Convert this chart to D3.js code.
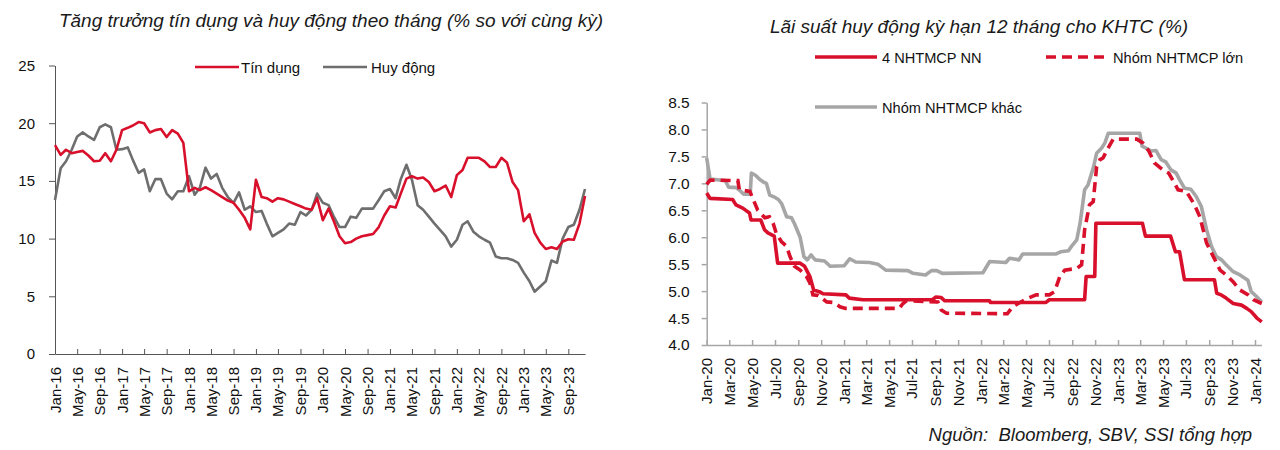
<!DOCTYPE html>
<html><head><meta charset="utf-8">
<script src="https://cdn.jsdelivr.net/npm/d3@7/dist/d3.min.js"></script>
<style>
body{margin:0;background:#fff;}
svg{display:block;}
</style>
</head><body>
<svg id="c" width="1280" height="450"></svg>
<script>
// ---------- LEFT CHART DATA ----------
const leftTitle = "Tăng trưởng tín dụng và huy động theo tháng (% so với cùng kỳ)";
const leftStart = "2016-01";   // first month of monthly series
const leftSeriesNames = ["Tín dụng", "Huy động"];
const creditGrowth = [18.1,17.25,17.7,17.4,17.5,17.6,17.2,16.7,16.75,17.4,16.7,17.7,
  19.4,19.6,19.8,20.1,20.0,19.2,19.4,19.5,18.8,19.4,19.1,18.3,
  14.1,14.4,14.2,14.45,14.2,13.9,13.6,13.3,13.1,12.5,11.8,10.8,
  15.1,13.6,13.5,13.2,13.5,13.4,13.2,13.0,12.8,12.6,12.5,13.5,
  11.6,12.6,11.5,10.2,9.6,9.7,10.0,10.2,10.3,10.4,11.0,12.0,
  12.8,12.7,13.9,15.2,15.4,15.2,15.3,14.9,14.1,14.3,14.6,13.6,
  15.5,15.95,17.0,17.0,17.0,16.7,16.2,16.2,17.0,16.6,14.9,14.2,
  11.5,12.1,10.5,9.65,9.1,9.25,9.1,9.75,9.95,9.9,11.3,13.7];
const depositGrowth = [13.35,16.1,16.7,17.7,18.85,19.2,18.85,18.55,19.65,19.9,19.65,17.7,
  17.75,17.9,16.8,15.7,16.0,14.1,15.15,15.15,13.9,13.4,14.1,14.1,
  15.4,13.8,14.4,16.15,15.2,15.6,14.4,13.6,13.1,14.0,12.5,12.8,
  12.3,12.4,11.3,10.2,10.5,10.8,11.3,11.2,12.3,12.0,12.5,13.9,
  13.1,12.9,11.9,11.0,11.0,11.9,11.8,12.6,12.6,12.6,13.35,14.1,
  14.3,13.5,15.15,16.4,15.1,12.9,12.5,11.9,11.3,10.75,10.2,9.3,
  9.9,11.2,11.5,10.6,10.2,9.9,9.65,8.45,8.3,8.3,8.15,7.9,
  7.05,6.3,5.4,5.85,6.3,8.1,7.9,10.0,11.0,11.2,12.5,14.3];
const leftYTicks = [0,5,10,15,20,25];
const leftXLabels = ["Jan-16","May-16","Sep-16","Jan-17","May-17","Sep-17","Jan-18","May-18","Sep-18",
  "Jan-19","May-19","Sep-19","Jan-20","May-20","Sep-20","Jan-21","May-21","Sep-21",
  "Jan-22","May-22","Sep-22","Jan-23","May-23","Sep-23"];

// ---------- RIGHT CHART DATA ----------
const rightTitle = "Lãi suất huy động kỳ hạn 12 tháng cho KHTC (%)";
const rightSeriesNames = ["4 NHTMCP NN", "Nhóm NHTMCP lớn", "Nhóm NHTMCP khác"];
const soeDates = ["2020-01-01","2020-01-10","2020-03-10","2020-03-19","2020-04-06","2020-04-24","2020-04-28","2020-05-24",
  "2020-06-03","2020-06-12","2020-06-29","2020-07-08","2020-09-05","2020-09-18","2020-10-02","2020-10-12","2020-10-27",
  "2020-11-06","2021-01-06","2021-01-15","2021-02-20","2021-08-24","2021-09-03","2021-09-17","2021-09-26","2022-01-24",
  "2022-01-26","2022-06-23","2022-07-02","2022-10-04","2022-10-08","2022-10-31","2022-11-03","2023-03-07","2023-03-15",
  "2023-05-21","2023-06-03","2023-06-14","2023-06-27","2023-09-15","2023-09-21","2023-10-03","2023-10-16","2023-11-04",
  "2023-11-26","2023-12-10","2023-12-22","2024-01-06","2024-01-19"];
const soeRates = [6.82,6.72,6.7,6.6,6.54,6.45,6.32,6.32,
  6.14,6.08,6.02,5.52,5.52,5.46,5.27,5.02,4.99,
  4.95,4.93,4.87,4.84,4.84,4.89,4.88,4.82,4.82,
  4.79,4.79,4.84,4.84,5.27,5.27,6.26,6.26,6.02,
  6.02,5.73,5.73,5.21,5.21,4.96,4.93,4.87,4.77,
  4.74,4.68,4.62,4.5,4.43];
const largeDates = ["2020-01-01","2020-01-10","2020-03-24","2020-03-28","2020-04-25","2020-05-04","2020-05-16","2020-06-04",
  "2020-06-16","2020-06-26","2020-07-04","2020-07-18","2020-08-01","2020-08-10","2020-08-22","2020-09-06","2020-09-23",
  "2020-10-02","2020-10-10","2020-10-24","2020-11-16","2020-12-04","2020-12-21","2021-01-05","2021-05-28","2021-06-07",
  "2021-06-16","2021-09-08","2021-09-17","2021-10-01","2022-03-12","2022-03-26","2022-04-10","2022-05-07","2022-05-28",
  "2022-07-02","2022-07-16","2022-07-30","2022-08-12","2022-09-13","2022-09-26","2022-10-04","2022-10-17","2022-10-27",
  "2022-11-05","2022-11-14","2022-11-22","2022-12-06","2022-12-19","2023-02-20","2023-03-08","2023-03-24","2023-04-08",
  "2023-04-30","2023-05-16","2023-05-26","2023-06-10","2023-07-02","2023-07-24","2023-08-07","2023-08-25","2023-09-12",
  "2023-09-30","2023-10-16","2023-11-03","2023-11-22","2023-12-14","2023-12-28","2024-01-19"];
const largeRates = [6.98,7.06,7.05,6.88,6.85,6.7,6.5,6.36,
  6.38,6.26,6.08,5.92,5.83,5.64,5.46,5.39,5.27,
  5.15,4.93,4.92,4.8,4.79,4.71,4.68,4.68,4.77,
  4.82,4.8,4.65,4.59,4.58,4.71,4.77,4.87,4.93,
  4.93,4.99,5.27,5.39,5.42,5.49,6.14,6.6,6.66,
  7.31,7.44,7.47,7.66,7.82,7.82,7.75,7.6,7.38,
  7.25,7.19,7.07,6.88,6.85,6.6,6.38,5.89,5.64,
  5.39,5.3,5.18,5.02,4.93,4.84,4.77];
const otherDates = ["2020-01-01","2020-01-10","2020-02-20","2020-02-28","2020-03-20","2020-04-01","2020-04-08","2020-04-26",
  "2020-04-29","2020-05-10","2020-05-20","2020-06-01","2020-06-08","2020-06-17","2020-06-28","2020-07-10","2020-07-19",
  "2020-08-01","2020-08-14","2020-08-22","2020-09-06","2020-09-16","2020-09-25","2020-10-05","2020-10-16","2020-11-10",
  "2020-11-25","2021-01-01","2021-01-16","2021-02-01","2021-03-10","2021-04-01","2021-04-22","2021-06-20","2021-07-04",
  "2021-08-06","2021-08-22","2021-09-05","2021-09-20","2022-01-06","2022-01-24","2022-03-08","2022-03-18","2022-04-12",
  "2022-04-22","2022-07-20","2022-08-01","2022-08-22","2022-08-30","2022-09-13","2022-09-22","2022-10-04","2022-10-13",
  "2022-10-28","2022-11-05","2022-11-19","2022-11-27","2022-12-06","2023-02-28","2023-03-06","2023-03-15","2023-03-30",
  "2023-04-12","2023-04-26","2023-05-08","2023-05-22","2023-06-05","2023-06-14","2023-06-27","2023-07-14","2023-07-28",
  "2023-08-11","2023-08-25","2023-09-07","2023-09-20","2023-10-04","2023-10-16","2023-11-04","2023-11-22","2023-12-05",
  "2023-12-13","2023-12-22","2024-01-05","2024-01-19"];
const otherRates = [7.47,7.08,7.05,6.93,6.92,6.85,6.8,6.8,
  7.19,7.15,7.08,7.02,7.0,6.78,6.75,6.7,6.62,
  6.38,6.36,6.25,6.0,5.64,5.58,5.67,5.58,5.56,
  5.46,5.47,5.6,5.54,5.53,5.5,5.39,5.38,5.33,
  5.3,5.38,5.38,5.33,5.34,5.55,5.53,5.61,5.58,
  5.69,5.69,5.73,5.75,5.83,5.95,6.26,6.88,6.97,
  7.31,7.56,7.66,7.75,7.93,7.93,7.69,7.66,7.6,
  7.61,7.44,7.4,7.25,7.19,7.07,6.91,6.89,6.76,
  6.57,6.14,5.83,5.64,5.58,5.49,5.36,5.3,5.24,
  5.2,4.99,4.9,4.8];
const rightYTicks = [4.0,4.5,5.0,5.5,6.0,6.5,7.0,7.5,8.0,8.5];
const rightXLabels = ["Jan-20","Mar-20","May-20","Jul-20","Sep-20","Nov-20","Jan-21","Mar-21","May-21","Jul-21",
  "Sep-21","Nov-21","Jan-22","Mar-22","May-22","Jul-22","Sep-22","Nov-22","Jan-23","Mar-23","May-23","Jul-23",
  "Sep-23","Nov-23","Jan-24"];
const sourceText = "Nguồn:  Bloomberg, SBV, SSI tổng hợp";

// ---------- FONT CHOICE (narrow face if installed) ----------
const cv = document.createElement("canvas").getContext("2d");
cv.font = "40px 'Liberation Sans Narrow', monospace"; const wN = cv.measureText("Jan-16 NHTMCP").width;
cv.font = "40px monospace"; const wM = cv.measureText("Jan-16 NHTMCP").width;
const hasNarrow = Math.abs(wN - wM) > 1;
const FONT = hasNarrow ? "'Liberation Sans Narrow','Liberation Sans',Arial,sans-serif" : "'Liberation Sans',Arial,sans-serif";
const fs = s => hasNarrow ? s * 1.16 : s;   // narrow face needs a larger size for the same width

// ---------- DRAW ----------
const RED = "#d8102c", GRAY_L = "#6e6e6e", GRAY_R = "#a6a6a6";
const svg = d3.select("#c").style("font-family", FONT);
const parseYM = d3.timeParse("%Y-%m");
const parseD = d3.timeParse("%Y-%m-%d");
const parseLbl = d3.timeParse("%b-%y");

// LEFT
const leftDates = d3.timeMonth.range(parseYM(leftStart), d3.timeMonth.offset(parseYM(leftStart), creditGrowth.length));
const xL = d3.scaleTime().domain([leftDates[0], leftDates[leftDates.length-1]]).range([55, 585]);
const yL = d3.scaleLinear().domain([0,25]).range([354, 65.5]);

svg.append("text").attr("x", 331).attr("y", 27).attr("text-anchor","middle")
  .attr("font-size", fs(19)).attr("font-style","italic").attr("fill","#1a1a1a").text(leftTitle);

const gyL = svg.append("g").attr("transform","translate(55,0)")
  .call(d3.axisLeft(yL).tickValues(leftYTicks).tickSize(6).tickSizeOuter(0).tickPadding(14).tickFormat(d3.format("d")));
gyL.selectAll("text").attr("font-size",fs(15)).attr("fill","#111");
gyL.attr("font-family", null);
gyL.selectAll("path,line").attr("stroke","#555");

const gxL = svg.append("g").attr("transform","translate(0,354)")
  .call(d3.axisBottom(xL).tickValues(leftXLabels.map(parseLbl)).tickSize(-5).tickSizeOuter(0).tickFormat(""));
gxL.selectAll("path,line").attr("stroke","#555");
svg.append("g").selectAll("text").data(leftXLabels).join("text")
  .attr("transform", d => `translate(${xL(parseLbl(d))+5.5},367) rotate(-90)`)
  .attr("text-anchor","end").attr("font-size",fs(15)).attr("fill","#111").text(d => d);

const lineL = d3.line().x((d,i) => xL(leftDates[i])).y(d => yL(d));
svg.append("path").datum(depositGrowth).attr("d", lineL).attr("fill","none").attr("stroke",GRAY_L).attr("stroke-width",2.6).attr("stroke-linejoin","round");
svg.append("path").datum(creditGrowth).attr("d", lineL).attr("fill","none").attr("stroke",RED).attr("stroke-width",2.6).attr("stroke-linejoin","round");

// left legend
const legL = [[leftSeriesNames[0], RED, 195, 241],[leftSeriesNames[1], GRAY_L, 323, 371]];
legL.forEach(([n,c,x0,tx]) => {
  svg.append("line").attr("x1",x0).attr("x2",x0+44).attr("y1",67).attr("y2",67).attr("stroke",c).attr("stroke-width",2.6);
  svg.append("text").attr("x",tx).attr("y",72.5).attr("font-size",fs(15)).attr("fill","#111").text(n);
});

// RIGHT
const xR = d3.scaleTime().domain([parseD("2020-01-01"), parseD("2024-01-01")]).range([706.7, 1255]);
const yR = d3.scaleLinear().domain([4,8.5]).range([345, 102.5]);

svg.append("text").attr("x", 979).attr("y", 33).attr("text-anchor","middle")
  .attr("font-size", fs(19)).attr("font-style","italic").attr("fill","#1a1a1a").text(rightTitle);

const gyR = svg.append("g").attr("transform","translate(706.7,0)")
  .call(d3.axisLeft(yR).tickValues(rightYTicks).tickSize(5).tickSizeOuter(0).tickPadding(12).tickFormat(d3.format(".1f")));
gyR.attr("font-family", null);
gyR.selectAll("text").attr("font-size",fs(15.5)).attr("fill","#111");
gyR.selectAll("path,line").attr("stroke",GRAY_R).attr("stroke-width",1.5);

const gxR = svg.append("g").attr("transform","translate(0,345)")
  .call(d3.axisBottom(xR).tickValues(rightXLabels.map(parseLbl)).tickSize(-5).tickSizeOuter(0).tickFormat(""));
gxR.select(".domain").attr("d", `M706.7,0.5H1262`);
gxR.selectAll("path,line").attr("stroke",GRAY_R).attr("stroke-width",1.5);
svg.append("g").selectAll("text").data(rightXLabels).join("text")
  .attr("transform", d => `translate(${xR(parseLbl(d))+5.5},358) rotate(-90)`)
  .attr("text-anchor","end").attr("font-size",fs(15)).attr("fill","#111").text(d => d);

const mk = (dates, vals) => dates.map((d,i) => [parseD(d), vals[i]]);
const lineR = d3.line().x(d => xR(d[0])).y(d => yR(d[1]));
svg.append("path").datum(mk(otherDates, otherRates)).attr("d", lineR).attr("fill","none").attr("stroke",GRAY_R).attr("stroke-width",3.6).attr("stroke-linejoin","round");
svg.append("path").datum(mk(largeDates, largeRates)).attr("d", lineR).attr("fill","none").attr("stroke",RED).attr("stroke-width",3.6).attr("stroke-dasharray","10,6");
svg.append("path").datum(mk(soeDates, soeRates)).attr("d", lineR).attr("fill","none").attr("stroke",RED).attr("stroke-width",3.6).attr("stroke-linejoin","round");

// right legend
const legR = [[rightSeriesNames[0], RED, null, 815, 57, 882],[rightSeriesNames[1], RED, "10,6", 1046, 57, 1113],[rightSeriesNames[2], GRAY_R, null, 815, 107, 882]];
legR.forEach(([n,c,dash,x0,yy,tx]) => {
  svg.append("line").attr("x1",x0).attr("x2",x0+62).attr("y1",yy).attr("y2",yy).attr("stroke",c).attr("stroke-width",3.6).attr("stroke-dasharray",dash);
  svg.append("text").attr("x",tx).attr("y",yy+5.5).attr("font-size",fs(14.6)).attr("fill","#111").text(n);
});

svg.append("text").attr("x",1252).attr("y",441).attr("text-anchor","end")
  .attr("font-size",fs(18.5)).attr("font-style","italic").attr("fill","#1a1a1a").style("white-space","pre").text(sourceText);
</script>
</body></html>
